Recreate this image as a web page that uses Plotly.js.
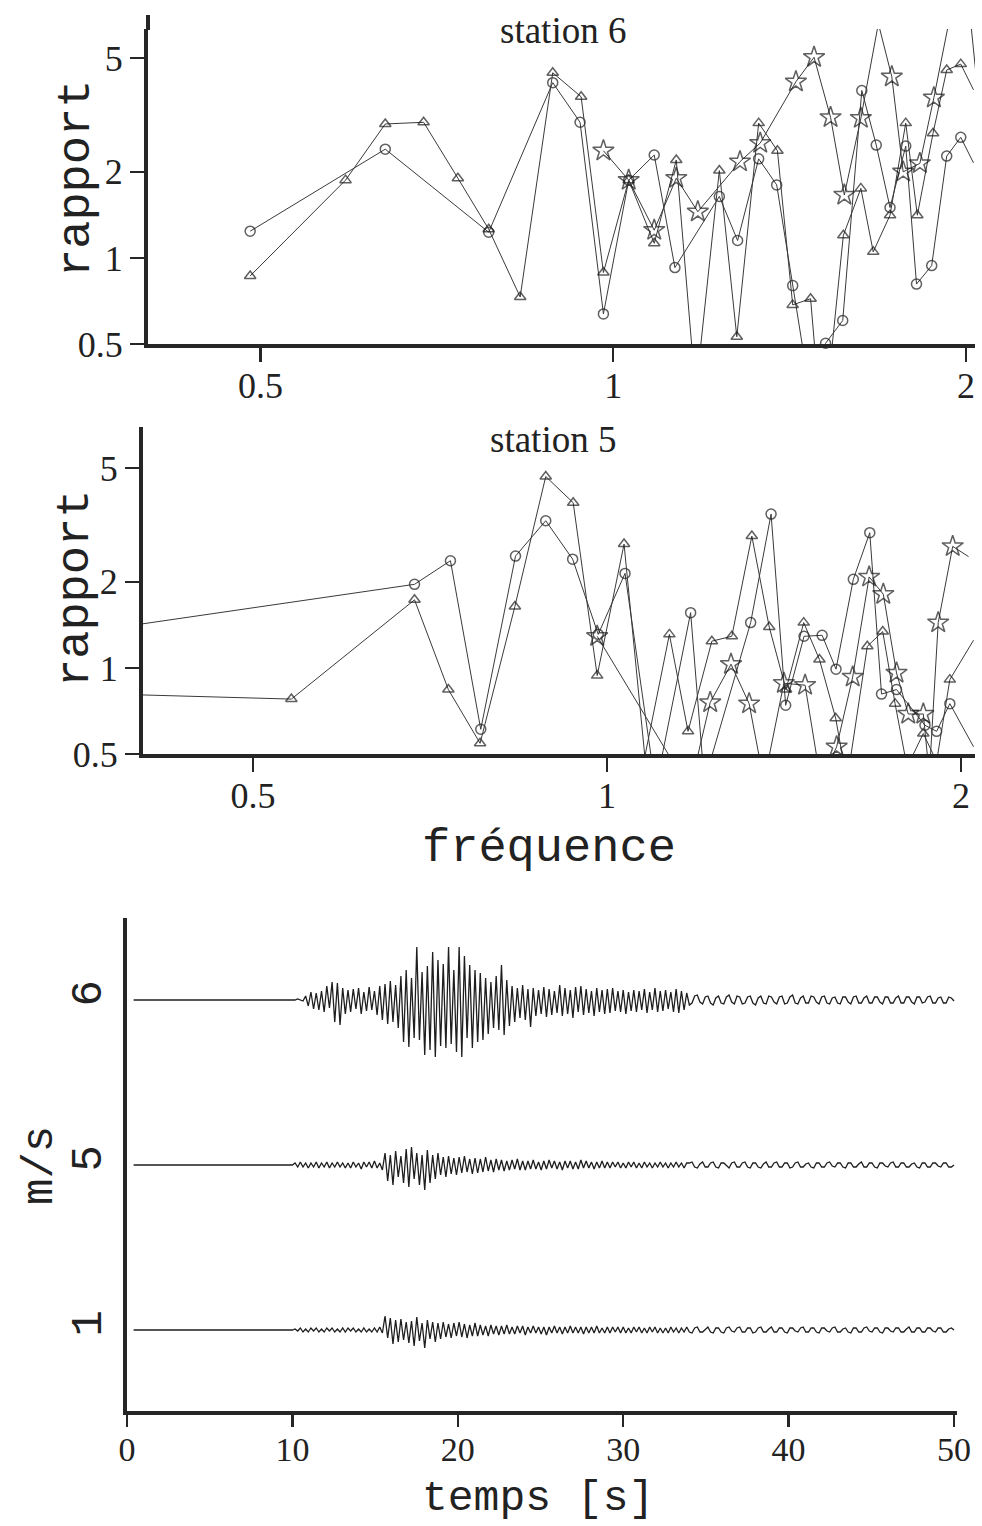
<!DOCTYPE html>
<html>
<head>
<meta charset="utf-8">
<script src="https://cdn.plot.ly/plotly-3.0.1.min.js"></script>
<style>
html, body { margin: 0; padding: 0; background: #ffffff; }
#chart { width: 982px; height: 1526px; }
</style>
</head>
<body>
<div id="chart"></div>
<script>
// ---------- station 6 : spectral ratio vs frequency ----------
const st6CircleFreq  = [0.49, 0.639, 0.783, 0.888, 0.937, 0.981, 1.031, 1.084, 1.129, 1.232, 1.277, 1.331, 1.379, 1.423, 1.47, 1.518, 1.570, 1.630, 1.677, 1.723, 1.777, 1.815, 1.870, 1.926, 1.98, 2.03];
const st6CircleRatio = [1.24, 2.40, 1.23, 4.10, 2.98, 0.637, 1.87, 2.29, 0.925, 1.64, 1.15, 2.22, 1.80, 0.80, 0.35, 0.503, 0.604, 3.85, 2.48, 1.50, 2.46, 0.81, 0.94, 2.27, 2.64, 2.15];

const st6TriFreq  = [0.49, 0.591, 0.639, 0.689, 0.737, 0.783, 0.833, 0.888, 0.939, 0.981, 1.031, 1.084, 1.132, 1.176, 1.232, 1.275, 1.331, 1.381, 1.423, 1.474, 1.509, 1.572, 1.627, 1.667, 1.723, 1.777, 1.818, 1.875, 1.926, 1.98, 2.03];
const st6TriRatio = [0.865, 1.87, 2.94, 2.98, 1.90, 1.26, 0.73, 4.44, 3.66, 0.889, 1.87, 1.125, 2.20, 0.337, 2.02, 0.53, 2.96, 2.37, 0.685, 0.72, 0.23, 1.20, 1.75, 1.05, 1.41, 2.96, 1.41, 2.73, 4.54, 4.76, 3.87];

const st6StarFreq  = [0.981, 1.031, 1.084, 1.132, 1.181, 1.283, 1.335, 1.432, 1.484, 1.533, 1.575, 1.627, 1.684, 1.729, 1.768, 1.827, 1.878, 1.99, 2.08];
const st6StarRatio = [2.37, 1.87, 1.25, 1.90, 1.45, 2.17, 2.52, 4.13, 5.03, 3.10, 1.66, 3.08, 6.6, 4.30, 2.0, 2.14, 3.63, 12, 2.0];

// ---------- station 5 : spectral ratio vs frequency ----------
const st5CircleFreq  = [0.40, 0.686, 0.736, 0.781, 0.836, 0.887, 0.935, 0.983, 1.036, 1.10, 1.178, 1.21, 1.325, 1.379, 1.419, 1.471, 1.524, 1.566, 1.620, 1.673, 1.712, 1.763, 1.864, 1.907, 1.957, 2.05];
const st5CircleRatio = [1.42, 1.96, 2.37, 0.61, 2.46, 3.27, 2.40, 1.31, 2.14, 0.38, 1.56, 0.40, 1.44, 3.45, 0.74, 1.29, 1.30, 0.99, 2.04, 2.97, 0.81, 0.84, 0.63, 0.60, 0.75, 0.53];

const st5TriFreq  = [0.40, 0.539, 0.686, 0.733, 0.78, 0.835, 0.887, 0.936, 0.981, 1.034, 1.077, 1.13, 1.172, 1.228, 1.277, 1.328, 1.374, 1.42, 1.470, 1.516, 1.565, 1.60, 1.665, 1.716, 1.758, 1.80, 1.858, 1.907, 1.957, 2.05];
const st5TriRatio = [0.805, 0.778, 1.73, 0.84, 0.545, 1.64, 4.67, 3.78, 0.94, 2.71, 0.49, 1.31, 0.60, 1.24, 1.29, 2.89, 1.39, 0.84, 1.44, 1.07, 0.667, 0.40, 1.19, 1.34, 0.75, 0.45, 0.59, 0.47, 0.91, 1.25];

const st5StarFreq  = [0.981, 1.176, 1.224, 1.275, 1.321, 1.36, 1.414, 1.474, 1.52, 1.568, 1.618, 1.671, 1.718, 1.763, 1.804, 1.858, 1.88, 1.913, 1.968, 2.03];
const st5StarRatio = [1.29, 0.375, 0.757, 1.03, 0.75, 0.40, 0.884, 0.87, 0.40, 0.53, 0.93, 2.08, 1.81, 0.96, 0.69, 0.69, 0.42, 1.44, 2.66, 2.45];

// ---------- seismograms (velocity, arbitrary units), sampled every 0.16 s from 10 s ----------
const sampleStart = 10.0;
const sampleStep = 0.16;
const quietStart = 0.4;
const seisTickLabels = ['6', '5', '1'];
const seisOffsets = [330, 165, 0];

const st6Amp = [
 0, 0, 1, 0, -1, 4, -6, 8, -9, 7,
 -10, 9, -12, 14, -8, 18, -22, 17, -25, 12,
 -14, 10, -12, 11, -9, 12, -14, 8, -11, 13,
 -10, 9, -15, 14, -20, 16, -24, 19, -22, 15,
 -28, 24, -42, 30, -47, 22, -38, 53, -40, 28,
 -55, 34, -50, 48, -57, 40, -46, 36, -48, 53,
 -44, 30, -52, 53, -57, 44, -38, 35, -48, 30,
 -42, 27, -40, 22, -34, 18, -28, 24, -30, 35,
 -35, 20, -26, 14, -22, 12, -18, 15, -20, 11,
 -27, 12, -16, 10, -14, 13, -17, 11, -15, 9,
 -13, 15, -16, 12, -14, 10, -18, 13, -12, 14,
 -15, 11, -13, 9, -16, 12, -12, 10, -14, 11,
 -13, 12, -11, 9, -12, 10, -14, 8, -11, 10,
 -12, 9, -10, 11, -13, 8, -10, 12, -12, 9,
 -11, 10, -9, 8, -12, 11, -13, 9, -10, 7,
 -5, -3, 4, 5, -2, -4, 3, 4, -3, -5,
 2, 4, -3, -4, 3, 5, -2, -4, 4, 3,
 -4, -3, 3, 4, -3, -5, 2, 4, -3, -4,
 4, 3, -2, -4, 3, 4, -4, -3, 3, 5,
 -3, -4, 2, 4, -3, -3, 4, 3, -2, -4,
 3, 4, -3, -4, 2, 3, -3, -4, 3, 3,
 -2, -4, 3, 4, -3, -3, 2, 4, -3, -3,
 3, 3, -2, -4, 3, 3, -3, -3, 2, 4,
 -3, -3, 3, 3, -2, -4, 3, 3, -3, -2,
 3, 4, -3, -3, 2, 3, -3, -3, 3, 2, -1
];

const st5Amp = [
 0, 2, -2, 3, -2, 2, -3, 2, -2, 3,
 -3, 2, -2, 3, -3, 2, -2, 3, -2, 2,
 -3, 2, -3, 3, -2, 2, -4, 3, -2, 3,
 -3, 4, -3, 2, -5, 12, -16, 10, -20, 14,
 -12, 9, -18, 16, -22, 18, -14, 12, -20, 10,
 -25, 15, -18, 10, -14, 12, -10, 8, -12, 9,
 -9, 7, -10, 8, -8, 9, -7, 6, -9, 7,
 -8, 6, -7, 8, -6, 5, -7, 6, -5, 5,
 -6, 4, -5, 5, -4, 6, -5, 4, -5, 4,
 -4, 5, -4, 3, -5, 4, -4, 5, -3, 4,
 -4, 3, -5, 4, -3, 4, -4, 3, -4, 5,
 -3, 4, -3, 3, -4, 3, -3, 4, -3, 3,
 -3, 3, -2, 3, -3, 2, -3, 3, -2, 3,
 -3, 2, -3, 3, -2, 2, -3, 2, -2, 3,
 -2, 2, -3, 2, -2, 3, -2, 2, -3, 2,
 2, 3, -2, -3, 1, 3, -2, -2, 2, 3,
 -2, -3, 2, 2, -1, -3, 2, 3, -2, -2,
 2, 3, -2, -3, 2, 2, -2, -3, 1, 3,
 -2, -2, 2, 3, -2, -2, 2, 2, -3, -2,
 2, 3, -2, -2, 1, 2, -2, -3, 2, 2,
 -2, -2, 2, 3, -1, -2, 2, 2, -2, -3,
 2, 2, -2, -2, 1, 3, -2, -2, 2, 2,
 -2, -3, 2, 2, -1, -2, 2, 3, -2, -2,
 2, 2, -2, -2, 1, 2, -2, -3, 2, 2,
 -2, -2, 2, 2, -1, -2, 2, 2, -2, -2, 0
];

const st1Amp = [
 0, 1, -1, 2, -2, 1, -2, 2, -1, 2,
 -2, 1, -2, 2, -1, 2, -2, 1, -2, 2,
 -2, 2, -1, 2, -2, 1, -2, 2, -2, 1,
 -2, 2, -2, 3, -3, 14, -8, 12, -14, 10,
 -12, 11, -10, 8, -13, 9, -16, 13, -11, 7,
 -18, 10, -9, 8, -12, 7, -9, 8, -7, 6,
 -8, 7, -6, 8, -7, 6, -8, 5, -6, 7,
 -6, 5, -5, 4, -6, 5, -4, 4, -5, 4,
 -4, 5, -4, 3, -4, 4, -3, 4, -5, 3,
 -3, 4, -3, 3, -4, 3, -5, 3, -3, 4,
 -3, 3, -4, 3, -3, 4, -3, 3, -3, 3,
 -4, 3, -3, 3, -3, 4, -3, 2, -3, 3,
 -3, 3, -2, 3, -3, 3, -3, 2, -3, 3,
 -2, 3, -3, 2, -3, 3, -2, 3, -3, 2,
 -3, 2, -3, 3, -2, 2, -3, 2, -2, 3,
 -2, -3, 2, 3, -2, -2, 1, 3, -2, -3,
 2, 2, -2, -3, 2, 3, -1, -2, 2, 3,
 -2, -2, 2, 2, -3, -2, 2, 3, -2, -2,
 1, 3, -2, -2, 2, 2, -2, -3, 2, 2,
 -1, -2, 2, 3, -2, -2, 2, 2, -2, -3,
 2, 2, -1, -2, 2, 3, -2, -2, 1, 2,
 -2, -3, 2, 2, -2, -2, 2, 3, -1, -2,
 2, 2, -2, -3, 2, 2, -1, -2, 2, 2,
 -2, -2, 1, 3, -2, -2, 2, 2, -2, -2,
 2, 2, -1, -2, 2, 2, -2, -2, 1, 2, 0
];

// ---------- styling ----------
const INK = '#262626';
const LINE = '#3a3a3a';
const MARK = '#1c1c1c';
const SERIF = 'Liberation Serif, Times New Roman, serif';
const MONO = 'Liberation Mono, Courier New, monospace';

const topX = [-0.397, 0.3088];
const topY = [Math.log10(0.5), 0.8004];
const midX = [-0.3946, 0.313];
const midY = [Math.log10(0.5), 0.8423];

function markerSizes(freq, ratio, size, xr, yr) {
  return freq.map((f, i) => {
    const lf = Math.log10(f), lr = Math.log10(ratio[i]);
    const hidden = lf < xr[0] || f > 2.005 || lr < yr[0] - 0.04 || lr > yr[1];
    return hidden ? 0 : size;
  });
}

function ratioTrace(freq, ratio, symbol, size, xa, ya, xr, yr) {
  return {
    x: freq, y: ratio, xaxis: xa, yaxis: ya,
    type: 'scatter', mode: 'lines+markers', cliponaxis: false,
    line: { color: LINE, width: 1 },
    marker: { symbol: symbol, size: markerSizes(freq, ratio, size, xr, yr), color: MARK,
              line: { color: MARK, width: 1.5 } },
    hoverinfo: 'x+y'
  };
}

function seisTrace(amp, offset) {
  const t = [quietStart], v = [offset];
  amp.forEach((a, i) => { t.push(sampleStart + i * sampleStep); v.push(offset + a); });
  return { x: t, y: v, xaxis: 'x3', yaxis: 'y3', type: 'scatter', mode: 'lines',
           line: { color: '#1e1e1e', width: 1.3 }, hoverinfo: 'skip' };
}

const data = [
  ratioTrace(st6CircleFreq, st6CircleRatio, 'circle-open', 10, 'x', 'y', topX, topY),
  ratioTrace(st6TriFreq, st6TriRatio, 'triangle-up-open', 10, 'x', 'y', topX, topY),
  ratioTrace(st6StarFreq, st6StarRatio, 'star-open', 16, 'x', 'y', topX, topY),
  ratioTrace(st5CircleFreq, st5CircleRatio, 'circle-open', 10, 'x2', 'y2', midX, midY),
  ratioTrace(st5TriFreq, st5TriRatio, 'triangle-up-open', 10, 'x2', 'y2', midX, midY),
  ratioTrace(st5StarFreq, st5StarRatio, 'star-open', 16, 'x2', 'y2', midX, midY),
  seisTrace(st6Amp, seisOffsets[0]),
  seisTrace(st5Amp, seisOffsets[1]),
  seisTrace(st1Amp, seisOffsets[2])
];

const axisCommon = {
  showline: true, linecolor: INK, linewidth: 4, mirror: false,
  showgrid: false, zeroline: false,
  ticks: 'outside', ticklen: 14, tickwidth: 2.5, tickcolor: INK,
  tickfont: { family: SERIF, size: 36, color: '#222' },
  fixedrange: true
};

const W = 982, H = 1526;
const px = v => v / W;
const py = v => 1 - v / H;

const layout = {
  width: W, height: H,
  margin: { l: 0, r: 0, t: 0, b: 0 },
  paper_bgcolor: '#ffffff', plot_bgcolor: 'rgba(0,0,0,0)',
  showlegend: false,
  xaxis: Object.assign({}, axisCommon, { domain: [px(148), px(975)], type: 'log', range: topX, anchor: 'y',
    tickmode: 'array', tickvals: [0.5, 1, 2], ticktext: ['0.5', '1', '2'], ticklabelstandoff: -7 }),
  yaxis: Object.assign({}, axisCommon, { domain: [py(344), py(29)], type: 'log', range: topY, anchor: 'x',
    tickmode: 'array', tickvals: [0.5, 1, 2, 5], ticktext: ['0.5', '1', '2', '5'], ticklabelstandoff: 0 }),
  xaxis2: Object.assign({}, axisCommon, { domain: [px(143), px(975)], type: 'log', range: midX, anchor: 'y2',
    tickmode: 'array', tickvals: [0.5, 1, 2], ticktext: ['0.5', '1', '2'], ticklabelstandoff: -7 }),
  yaxis2: Object.assign({}, axisCommon, { domain: [py(754), py(427)], type: 'log', range: midY, anchor: 'x2',
    tickmode: 'array', tickvals: [0.5, 1, 2, 5], ticktext: ['0.5', '1', '2', '5'], ticklabelstandoff: 0 }),
  xaxis3: Object.assign({}, axisCommon, { domain: [px(127), px(957)], range: [0, 50.18], anchor: 'y3',
    tickmode: 'array', tickvals: [0, 10, 20, 30, 40, 50], ticklen: 12,
    tickfont: { family: SERIF, size: 34, color: '#222' }, ticklabelstandoff: -7 }),
  yaxis3: Object.assign({}, axisCommon, { domain: [py(1411), py(918)], range: [-81, 412], anchor: 'x3',
    tickmode: 'array', tickvals: seisOffsets, ticktext: seisTickLabels, ticks: '', tickangle: -90,
    tickfont: { family: MONO, size: 44, color: '#222' }, ticklabelstandoff: 4 }),
  shapes: [
    { type: 'line', xref: 'paper', yref: 'paper', x0: px(148), x1: px(148), y0: py(30), y1: py(15),
      line: { color: INK, width: 4 } }
  ],
  annotations: [
    { text: 'station 6', xref: 'paper', yref: 'paper', x: px(563), y: py(30), showarrow: false,
      xanchor: 'center', yanchor: 'middle', font: { family: SERIF, size: 37, color: '#222' } },
    { text: 'station 5', xref: 'paper', yref: 'paper', x: px(553), y: py(440), showarrow: false,
      xanchor: 'center', yanchor: 'middle', font: { family: SERIF, size: 37, color: '#222' } },
    { text: 'rapport', xref: 'paper', yref: 'paper', x: px(76), y: py(179), showarrow: false, textangle: -90,
      xanchor: 'center', yanchor: 'middle', font: { family: MONO, size: 47, color: '#222' } },
    { text: 'rapport', xref: 'paper', yref: 'paper', x: px(76), y: py(589), showarrow: false, textangle: -90,
      xanchor: 'center', yanchor: 'middle', font: { family: MONO, size: 47, color: '#222' } },
    { text: 'fréquence', xref: 'paper', yref: 'paper', x: px(549), y: py(848), showarrow: false,
      xanchor: 'center', yanchor: 'middle', font: { family: MONO, size: 47, color: '#222' } },
    { text: 'temps [s]', xref: 'paper', yref: 'paper', x: px(538), y: py(1525), showarrow: false,
      xanchor: 'center', yanchor: 'bottom', font: { family: MONO, size: 43, color: '#222' } },
    { text: 'm/s', xref: 'paper', yref: 'paper', x: px(40), y: py(1166), showarrow: false, textangle: -90,
      xanchor: 'center', yanchor: 'middle', font: { family: MONO, size: 44, color: '#222' } }
  ]
};

Plotly.newPlot('chart', data, layout, { displayModeBar: false, staticPlot: true });
</script>
</body>
</html>
